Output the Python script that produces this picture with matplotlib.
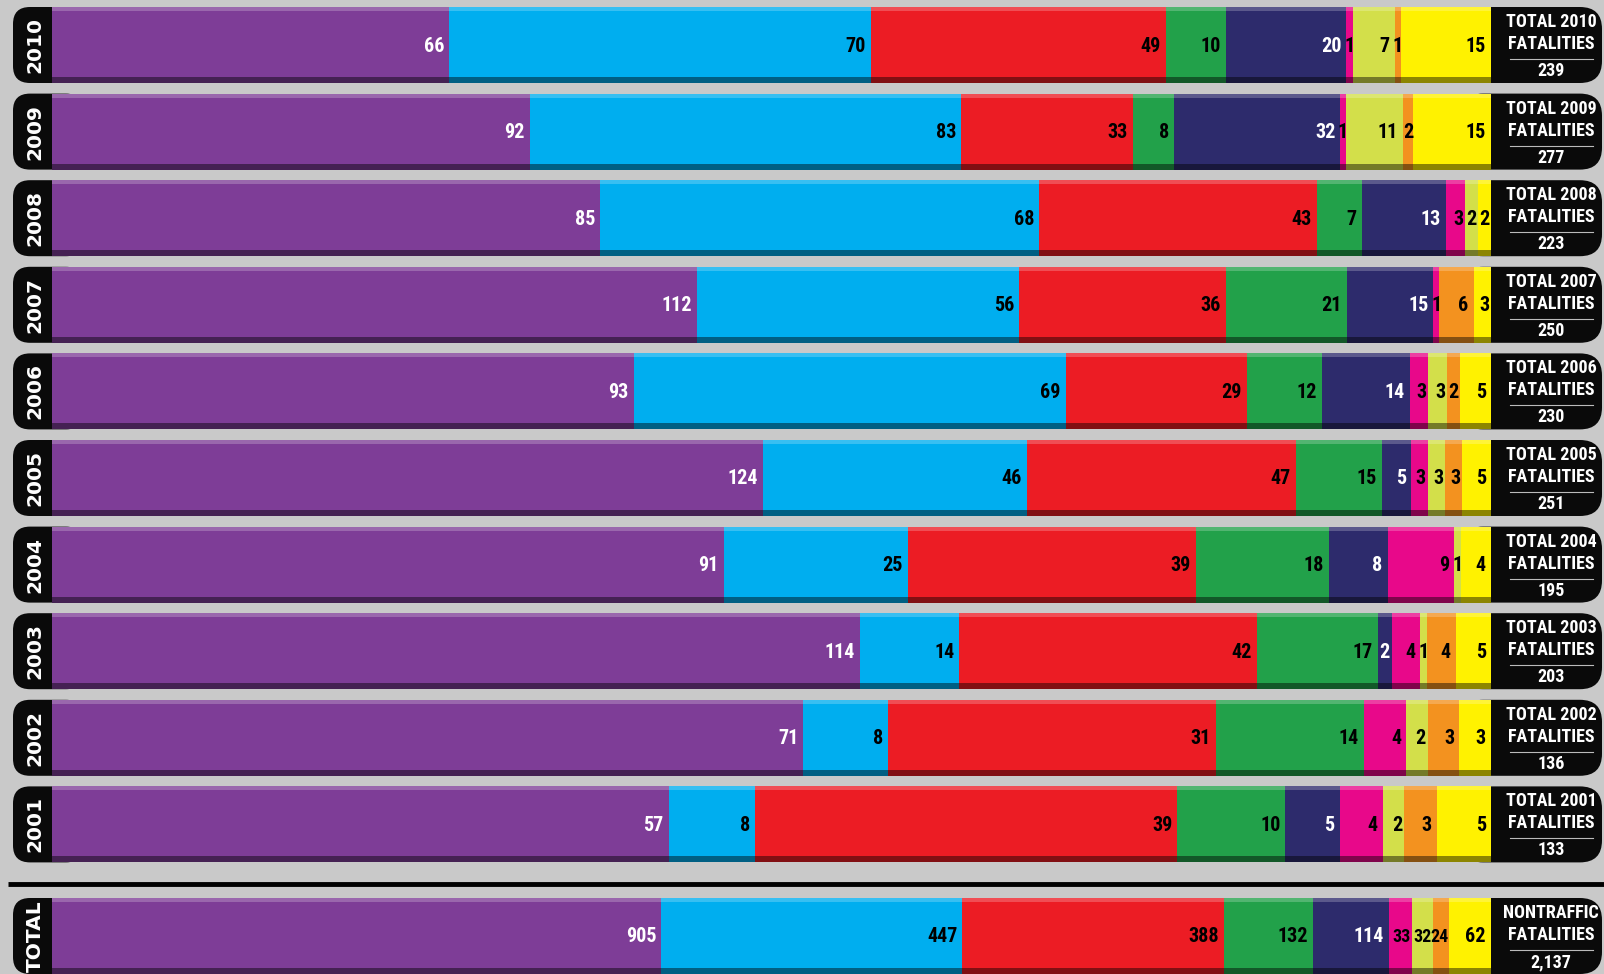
import numpy as np
import matplotlib.pyplot as plt
from matplotlib import font_manager
from matplotlib.patches import FancyBboxPatch

# fatalities by year, one list per category (left to right in each bar)
years = ['2010', '2009', '2008', '2007', '2006', '2005', '2004', '2003', '2002', '2001']
purple = [66, 92, 85, 112, 93, 124, 91, 114, 71, 57]
blue = [70, 83, 68, 56, 69, 46, 25, 14, 8, 8]
red = [49, 33, 43, 36, 29, 47, 39, 42, 31, 39]
green = [10, 8, 7, 21, 12, 15, 18, 17, 14, 10]
navy = [20, 32, 13, 15, 14, 5, 8, 2, 0, 5]
pink = [1, 1, 3, 1, 3, 3, 9, 4, 4, 4]
lime = [7, 11, 2, 0, 3, 3, 1, 1, 2, 2]
orange = [1, 2, 0, 6, 2, 3, 0, 4, 3, 3]
yellow = [15, 15, 2, 3, 5, 5, 4, 5, 3, 5]

series = [purple, blue, red, green, navy, pink, lime, orange, yellow]
colors = ['#7e3d97', '#00aeef', '#ec1c24', '#22a14a', '#2d2b6c',
          '#e8088a', '#d3df4a', '#f3921f', '#fff200']
label_colors = ['white', 'black', 'black', 'black', 'white',
                'black', 'black', 'black', 'black']

data = np.array(series, dtype=float).T          # rows = years
total_row = data.sum(axis=0)
rows = np.vstack([data, total_row])
row_names = years + ['TOTAL']


def pick_narrow():
    # look for a condensed bold face, else fall back to a narrow-ish sans
    fonts = font_manager.fontManager.ttflist
    for name in ['Liberation Sans Narrow', 'Roboto Condensed', 'Open Sans Condensed']:
        if any(f.name == name for f in fonts):
            return dict(family=[name, 'DejaVu Sans'])
    for f in fonts:
        if f.name == 'DejaVu Sans' and f.stretch == 'condensed':
            return dict(family=['DejaVu Sans'], fontstretch='condensed')
    for f in fonts:
        if 'Condensed' in f.name or 'Narrow' in f.name:
            return dict(family=[f.name, 'DejaVu Sans'])
    return dict(family=['Roboto', 'DejaVu Sans'])


narrow = pick_narrow()

# layout (pixels of the 1604x974 picture)
W, H = 1604, 974
bar_x0, bar_x1 = 52, 1491
bw = bar_x1 - bar_x0
pitch = 86.6
y0 = 45
px_x = 1.0 / bw          # one pixel in x data units
px_y = 1.0 / pitch       # one pixel in y data units
bar_h = 76 * px_y
ypos = list(range(len(years))) + [(936 - y0) / pitch]
sep_y = (884 - y0) / pitch

fig = plt.figure(figsize=(W / 100, H / 100), dpi=100)
fig.patch.set_facecolor('#c9c9c9')
ax = fig.add_axes([0, 0, 1, 1])
ax.set_facecolor('#c9c9c9')
ax.set_xlim(-bar_x0 * px_x, (W - bar_x0) * px_x)
ax.set_ylim((H - y0) / pitch, -y0 / pitch)
ax.axis('off')

aspect = px_y / px_x

for r, (name, vals) in enumerate(zip(row_names, rows)):
    y = ypos[r]
    tot = vals.sum()
    fr = vals / tot
    left = np.concatenate([[0], np.cumsum(fr)[:-1]])

    # left black tab with the year
    tab = FancyBboxPatch((-39 * px_x, y - bar_h / 2), 70 * px_x, bar_h,
                         boxstyle='round,pad=0,rounding_size=%f' % (17 * px_x),
                         mutation_aspect=aspect, fc='#0a0a0a', ec='none', zorder=1)
    ax.add_patch(tab)
    ax.text(-17 * px_x, y, name, rotation=90, ha='center', va='center',
            color='white', fontsize=14.5, fontweight='bold',
            family=['DejaVu Sans'], zorder=5)

    # right black box with the total
    box = FancyBboxPatch((1 - 30 * px_x, y - bar_h / 2), 141 * px_x, bar_h,
                         boxstyle='round,pad=0,rounding_size=%f' % (22 * px_x),
                         mutation_aspect=aspect, fc='#0a0a0a', ec='none', zorder=1)
    ax.add_patch(box)
    cx = 1 + 60 * px_x
    if name == 'TOTAL':
        line1 = 'NONTRAFFIC'
    else:
        line1 = 'TOTAL ' + name
    ax.text(cx, y - 23 * px_y, line1, ha='center', va='center', color='white',
            fontsize=13, fontweight='bold', zorder=5, **narrow)
    ax.text(cx, y - 1 * px_y, 'FATALITIES', ha='center', va='center', color='white',
            fontsize=13, fontweight='bold', zorder=5, **narrow)
    ax.plot([1 + 19 * px_x, 1 + 102 * px_x], [y + 14 * px_y] * 2,
            color='#bbbbbb', lw=0.8, zorder=5)
    ax.text(cx, y + 26 * px_y, f'{int(tot):,}', ha='center', va='center', color='white',
            fontsize=13, fontweight='bold', zorder=5, **narrow)

    # stacked segments
    ax.barh([y] * len(fr), fr, left=left, height=bar_h, color=colors,
            linewidth=0, zorder=2)
    # highlight on top, shadow at bottom
    ax.barh(y - bar_h / 2 + 2 * px_y, 1, left=0, height=4 * px_y,
            color='white', alpha=0.22, linewidth=0, zorder=3)
    ax.barh(y + bar_h / 2 - 3 * px_y, 1, left=0, height=6 * px_y,
            color='black', alpha=0.45, linewidth=0, zorder=3)

    for k, v in enumerate(vals):
        if v == 0:
            continue
        seg_px = fr[k] * bw
        fs = 14.5
        if seg_px < 14:
            # tiny segment: put the number over its middle
            xt, ha = left[k] + fr[k] / 2, 'center'
        elif seg_px < 26:
            xt, ha = left[k] + fr[k] - 2 * px_x, 'right'
            if v >= 10:
                fs = 13
                xt = left[k] + fr[k] - 1 * px_x
        else:
            xt, ha = left[k] + fr[k] - 5 * px_x, 'right'
        ax.text(xt, y + 1 * px_y, f'{int(v)}',
                ha=ha, va='center', color=label_colors[k],
                fontsize=fs, fontweight='bold', zorder=5, **narrow)

# separator line above the total row
ax.plot([-44 * px_x, (W - bar_x0) * px_x], [sep_y, sep_y], color='black', lw=3.5,
        zorder=4, solid_capstyle='butt')

fig.savefig('out.png', dpi=100, facecolor=fig.get_facecolor())
